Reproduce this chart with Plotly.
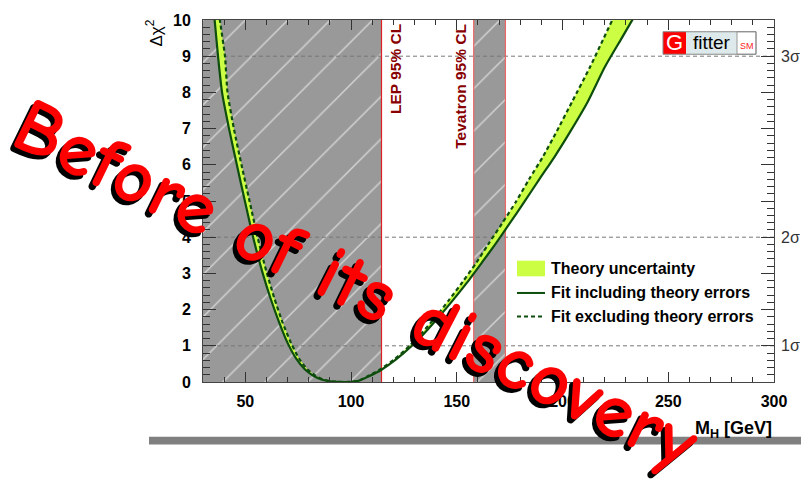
import plotly.graph_objects as go

# ---------------- data ----------------
# Fit including theory errors (solid)
mh_incl = [34, 35.5, 37.1, 39, 42.3, 46, 49.8, 53.7, 58, 62, 66, 70, 74, 78, 82, 86, 90, 94, 97, 100,
           104, 108, 114.4, 121, 128.8, 135, 142, 148.3, 155, 162, 168, 175, 182, 189, 196, 204, 212,
           220, 228, 236, 240]
chi2_incl = [10.8, 10.0, 9.0, 8.0, 7.0, 6.0, 5.0, 4.0, 3.05, 2.3, 1.65, 1.08, 0.65, 0.36, 0.18, 0.07, 0.02, 0.003, 0.0, 0.003,
             0.04, 0.145, 0.34, 0.61, 1.0, 1.37, 1.83, 2.27, 2.76, 3.31, 3.79, 4.38, 4.98, 5.6, 6.2, 6.95, 7.75,
             8.7, 9.5, 10.3, 10.7]
# Fit excluding theory errors (dashed)
mh_excl = [36.5, 38, 40.4, 41.6, 44.6, 48.2, 52, 55.8, 60, 63.8, 67.6, 71.6, 75.4, 79.2, 83, 86.8, 90.5, 94.2, 97, 99.8,
           103.6, 107.5, 113.5, 120.2, 127.7, 133.7, 140.5, 146.4, 152.7, 159.4, 164.7, 171.4, 178, 184.2, 190.5,
           197.5, 204.6, 213, 219.5, 226, 229.5]
chi2_excl = [10.8, 10.0, 9.0, 8.0, 7.0, 6.0, 5.0, 4.0, 3.05, 2.3, 1.65, 1.08, 0.65, 0.36, 0.18, 0.07, 0.02, 0.003, 0.0, 0.003,
             0.04, 0.145, 0.34, 0.61, 1.0, 1.37, 1.83, 2.27, 2.76, 3.31, 3.79, 4.38, 4.98, 5.6, 6.2,
             6.95, 7.75, 8.7, 9.5, 10.3, 10.7]

sigma_levels = [1, 4, 9]
sigma_labels = ["1σ", "2σ", "3σ"]
lep_excl = [30, 114.4]
tev_excl = [158, 173]
x_range = [30, 300]
y_range = [0, 10]
x_ticks = [50, 100, 150, 200, 250, 300]
y_ticks = [0, 1, 2, 3, 4, 5, 6, 7, 8, 9, 10]
legend_labels = ["Theory uncertainty", "Fit including theory errors", "Fit excluding theory errors"]

# ---------------- styles ----------------
BAND = "#ccff44"
GREEN = "#0d4d0d"
GRAY = "#999999"
HATCH = "#d2d2d2"
FONT = "Liberation Sans, Arial, sans-serif"

fig = go.Figure()

def excl_region(lo, hi):
    fig.add_trace(go.Scatter(
        x=[lo, hi, hi, lo, lo], y=[y_range[0], y_range[0], y_range[1], y_range[1], y_range[0]],
        mode="lines", line=dict(width=0), fill="toself", fillcolor=GRAY,
        fillpattern=dict(shape="/", fgcolor=HATCH, bgcolor=GRAY, size=30, solidity=0.05, fgopacity=1),
        showlegend=False, hoverinfo="skip"))

excl_region(*lep_excl)
excl_region(*tev_excl)

for lvl in sigma_levels:
    fig.add_trace(go.Scatter(x=x_range, y=[lvl, lvl], mode="lines",
                             line=dict(color="#777777", width=1, dash="4px,3px"),
                             showlegend=False, hoverinfo="skip"))

for xe, col in [(lep_excl[1], "#e02020"), (tev_excl[0], "#ee6666"), (tev_excl[1], "#ee6666")]:
    fig.add_trace(go.Scatter(x=[xe, xe], y=y_range, mode="lines",
                             line=dict(color=col, width=1.2), showlegend=False, hoverinfo="skip"))

# theory band
fig.add_trace(go.Scatter(
    x=mh_incl + mh_excl[::-1], y=chi2_incl + chi2_excl[::-1],
    mode="lines", line=dict(width=0), fill="toself", fillcolor=BAND,
    name=legend_labels[0], showlegend=False, hoverinfo="skip"))
fig.add_trace(go.Scatter(x=mh_incl, y=chi2_incl, mode="lines",
                         line=dict(color=GREEN, width=2.2, shape="spline", smoothing=0.6),
                         name=legend_labels[1], showlegend=False))
fig.add_trace(go.Scatter(x=mh_excl, y=chi2_excl, mode="lines",
                         line=dict(color=GREEN, width=2.2, dash="4px,3px", shape="spline", smoothing=0.6),
                         name=legend_labels[2], showlegend=False))

tickfont = dict(family=FONT, size=16, color="black", weight="bold")
fig.update_xaxes(range=x_range, tickvals=x_ticks, ticks="inside", ticklen=10, tickcolor="#333",
                 minor=dict(dtick=10, ticklen=5, ticks="inside", tickcolor="#333"),
                 showline=True, linecolor="#444", linewidth=1, mirror="ticks",
                 showgrid=False, zeroline=False, tickfont=tickfont, ticklabelstandoff=5)
fig.update_yaxes(range=y_range, tickvals=y_ticks, ticks="inside", ticklen=13, tickcolor="#333",
                 minor=dict(dtick=0.2, ticklen=7, ticks="inside", tickcolor="#333"),
                 showline=True, linecolor="#444", linewidth=1, mirror="ticks",
                 showgrid=False, zeroline=False, tickfont=tickfont, ticklabelstandoff=8)

# paper coords helpers: plot spans x 203..774 px, y 12..382 px
def px(xp):
    return (xp - 203) / 571
def py(yp):
    return (382 - yp) / 370

ann = []
shapes = []
ann.append(dict(text="M<sub>H</sub> [GeV]", xref="paper", yref="paper", x=1, y=py(431),
                xanchor="right", yanchor="middle", showarrow=False,
                font=dict(family=FONT, size=18, color="black", weight="bold")))
ann.append(dict(text="Δχ<sup>2</sup>", xref="paper", yref="paper", x=px(154), y=py(10),
                xanchor="center", yanchor="top", textangle=-90, showarrow=False,
                font=dict(family=FONT, size=17, color="black")))
for lvl, lab in zip(sigma_levels, sigma_labels):
    ann.append(dict(text=lab, xref="paper", yref="y", x=1, y=lvl, xanchor="left", yanchor="middle",
                    xshift=5, showarrow=False, font=dict(family=FONT, size=16, color="#333")))
ann.append(dict(text="LEP 95% CL", xref="x", yref="y", x=lep_excl[1], y=y_range[1], xanchor="left",
                yanchor="top", xshift=3, yshift=-2, textangle=-90, showarrow=False,
                font=dict(family=FONT, size=15.5, color="#880000", weight="bold")))
ann.append(dict(text="Tevatron 95% CL", xref="x", yref="y", x=tev_excl[0], y=y_range[1], xanchor="right",
                yanchor="top", xshift=-3, yshift=-2, textangle=-90, showarrow=False,
                font=dict(family=FONT, size=15.5, color="#880000", weight="bold")))

# legend drawn by hand
shapes.append(dict(type="rect", xref="paper", yref="paper", x0=px(517), x1=px(545), y0=py(274), y1=py(258),
                   fillcolor=BAND, line=dict(width=0)))
shapes.append(dict(type="line", xref="paper", yref="paper", x0=px(517), x1=px(545), y0=py(291), y1=py(291),
                   line=dict(color=GREEN, width=2)))
shapes.append(dict(type="line", xref="paper", yref="paper", x0=px(517), x1=px(545), y0=py(315), y1=py(315),
                   line=dict(color=GREEN, width=2, dash="4px,3px")))
for lab, yy in zip(legend_labels, [266, 291, 315]):
    ann.append(dict(text=lab, xref="paper", yref="paper", x=px(549), y=py(yy), xanchor="left",
                    yanchor="middle", showarrow=False,
                    font=dict(family=FONT, size=16, color="black", weight="bold")))

# Gfitter logo
shapes.append(dict(type="rect", xref="paper", yref="paper", x0=px(686), x1=px(737), y0=py(47), y1=py(24),
                   fillcolor="#dde9ea", line=dict(width=0)))
shapes.append(dict(type="rect", xref="paper", yref="paper", x0=px(663), x1=px(686), y0=py(47), y1=py(24),
                   fillcolor="#ff0000", line=dict(width=0)))
shapes.append(dict(type="rect", xref="paper", yref="paper", x0=px(737), x1=px(756), y0=py(47), y1=py(24),
                   fillcolor="white", line=dict(color="#999", width=1)))
shapes.append(dict(type="rect", xref="paper", yref="paper", x0=px(663), x1=px(756), y0=py(47), y1=py(24),
                   fillcolor="rgba(0,0,0,0)", line=dict(color="#888", width=1)))
ann.append(dict(text="G", xref="paper", yref="paper", x=px(674.5), y=py(35.5), xanchor="center",
                yanchor="middle", showarrow=False, font=dict(family=FONT, size=22, color="white")))
ann.append(dict(text="fitter", xref="paper", yref="paper", x=px(711.5), y=py(35), xanchor="center",
                yanchor="middle", showarrow=False, font=dict(family=FONT, size=19, color="black")))
ann.append(dict(text="SM", xref="paper", yref="paper", x=px(746.5), y=py(39), xanchor="center",
                yanchor="middle", showarrow=False, font=dict(family=FONT, size=9, color="#ff2222")))

# bottom gray bar
shapes.append(dict(type="rect", xref="paper", yref="paper", x0=px(149), x1=px(801), y0=py(446), y1=py(438),
                   fillcolor="#808080", line=dict(width=0)))

# big slanted text with shadow
big = "Before of its discovery"
bigfont = "Comic Sans MS, Comic Neue, Lato, sans-serif"
ann.append(dict(text=big, xref="paper", yref="paper", x=px(356), y=py(283), textangle=26,
                xanchor="center", yanchor="middle", xshift=-4, yshift=-4, showarrow=False,
                font=dict(family=bigfont, size=78, color="black", weight="bold")))
ann.append(dict(text=big, xref="paper", yref="paper", x=px(356), y=py(283), textangle=26,
                xanchor="center", yanchor="middle", showarrow=False,
                font=dict(family=bigfont, size=78, color="#ff0000", weight="bold")))

fig.update_layout(
    width=801, height=481, autosize=False,
    margin=dict(l=203, r=27, t=12, b=99),
    paper_bgcolor="white", plot_bgcolor="white",
    showlegend=False,
    annotations=ann, shapes=shapes,
)

fig.write_html("out.html")
